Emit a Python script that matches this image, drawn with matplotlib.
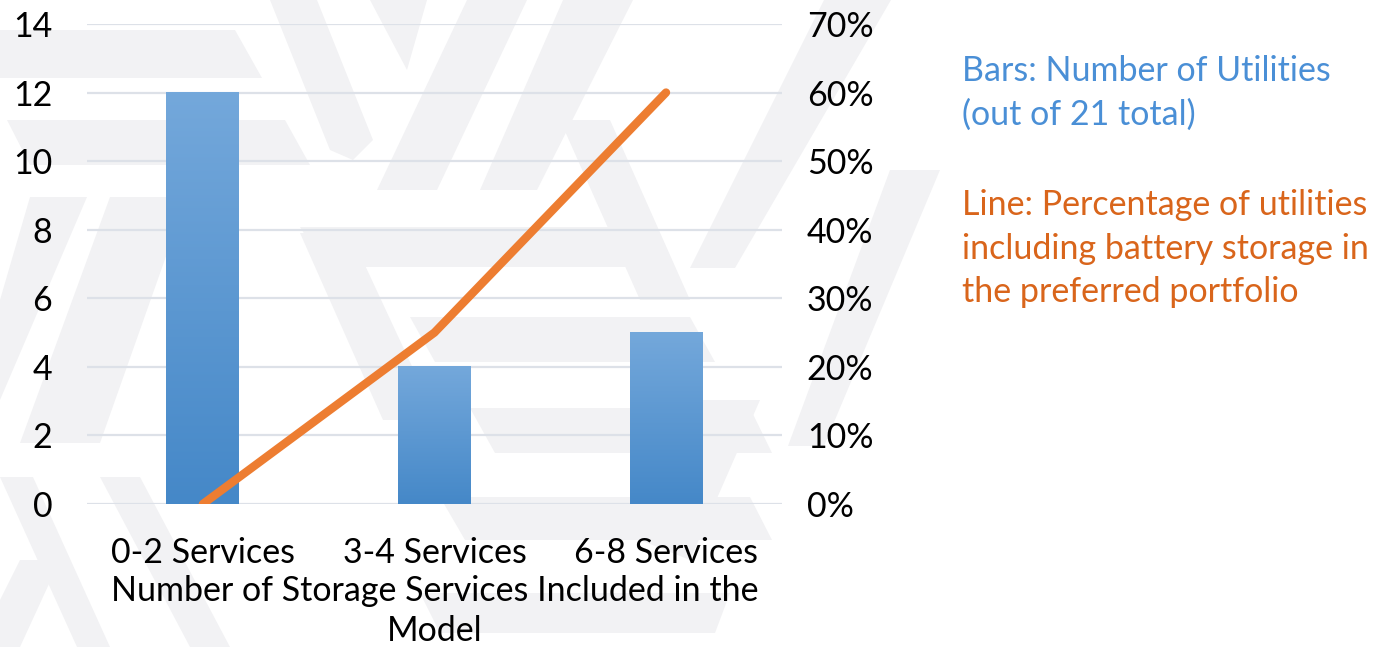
import numpy as np
import matplotlib.pyplot as plt
from matplotlib.patches import Polygon
from matplotlib.ticker import PercentFormatter

plt.rcParams['font.family'] = ['Lato', 'DejaVu Sans']

# данные
categories = ['0-2 Services', '3-4 Services', '6-8 Services']
utilities = [12, 4, 5]
battery_share = [0.0, 0.25, 0.60]

fig = plt.figure(figsize=(13.84, 6.47), dpi=100)

# светлый фоновый узор (координаты в пикселях, y сверху вниз)
bg = fig.add_axes([0, 0, 1, 1], zorder=-10)
bg.set_xlim(0, 1384)
bg.set_ylim(647, 0)
bg.axis('off')
shapes = [
    # горизонтальные полосы
    [(0, 30), (235, 30), (262, 78), (0, 78)],
    [(7, 120), (285, 120), (310, 165), (30, 165)],
    [(300, 227), (640, 227), (660, 267), (325, 267)],
    [(410, 317), (690, 317), (715, 362), (435, 362)],
    [(470, 408), (750, 408), (772, 453), (495, 453)],
    [(440, 497), (750, 497), (772, 540), (465, 540)],
    [(420, 593), (730, 593), (715, 633), (440, 633)],
    # полосы "\"
    [(270, 0), (317, 0), (373, 140), (353, 160), (330, 150)],
    [(370, 0), (427, 0), (407, 70)],
    [(300, 233), (350, 233), (437, 420), (383, 420)],
    [(0, 477), (33, 477), (110, 647), (77, 647)],
    [(100, 477), (140, 477), (230, 647), (190, 647)],
    [(560, 120), (610, 120), (690, 300), (640, 300)],
    # полосы "/"
    [(467, 0), (527, 0), (437, 190), (377, 190)],
    [(563, 0), (633, 0), (537, 190), (480, 190)],
    [(824, 0), (891, 0), (735, 268), (690, 268)],
    [(890, 170), (940, 170), (824, 446), (788, 446)],
    [(30, 197), (87, 197), (0, 400), (0, 300)],
    [(110, 197), (187, 197), (100, 443), (20, 443)],
    [(700, 400), (760, 400), (690, 560), (640, 540)],
    [(20, 560), (60, 560), (20, 647), (0, 647), (0, 600)],
]
for pts in shapes:
    bg.add_patch(Polygon(pts, closed=True, facecolor='#f2f2f4', edgecolor='none'))

ax = fig.add_axes([0.0629, 0.221, 0.502, 0.742])
ax.patch.set_alpha(0)
x = np.arange(len(categories))

# столбцы с вертикальным градиентом
bar_w = 0.315
bars = ax.bar(x, utilities, width=bar_w, color='none', zorder=3)
grad = np.linspace(0, 1, 256).reshape(-1, 1)
top_c = np.array([0x74, 0xa8, 0xdb]) / 255
bot_c = np.array([0x45, 0x88, 0xc8]) / 255
img = top_c * (1 - grad[..., None]) + bot_c * grad[..., None]
for b in bars:
    x0, y0 = b.get_x(), b.get_y()
    ax.imshow(img, extent=[x0, x0 + b.get_width(), y0, y0 + b.get_height()],
              origin='upper', aspect='auto', zorder=3)

ax.set_xlim(-0.5, 2.5)
ax.set_ylim(0, 14)
ax.set_yticks(range(0, 15, 2))
ax.set_xticks(x)
ax.set_xticklabels(categories)
ax.grid(axis='y', color='#dde1e8', linewidth=1.6, zorder=0)
ax.set_axisbelow(True)
for s in ax.spines.values():
    s.set_visible(False)
ax.tick_params(axis='both', length=0, labelsize=24.5, colors='black')
ax.tick_params(axis='y', pad=25)
ax.tick_params(axis='x', pad=24)
ax.set_xlabel('Number of Storage Services Included in the\nModel', fontsize=24.5,
              labelpad=4, linespacing=1.3)

# линия по правой оси
ax2 = ax.twinx()
ax2.plot(x, battery_share, color='#ed7d31', linewidth=6, solid_capstyle='round', zorder=5)
ax2.set_ylim(0, 0.7)
ax2.set_yticks(np.arange(0, 0.71, 0.1))
ax2.yaxis.set_major_formatter(PercentFormatter(1.0, decimals=0))
for s in ax2.spines.values():
    s.set_visible(False)
ax2.tick_params(axis='y', length=0, labelsize=24.5, pad=18)

fig.text(0.695, 0.915, 'Bars: Number of Utilities\n(out of 21 total)', color='#4a8fd6',
         fontsize=24.5, va='top', linespacing=1.45)
fig.text(0.695, 0.708, 'Line: Percentage of utilities\nincluding battery storage in\nthe preferred portfolio',
         color='#d9651b', fontsize=24.5, va='top', linespacing=1.45)

fig.savefig('out.png', dpi=100)
